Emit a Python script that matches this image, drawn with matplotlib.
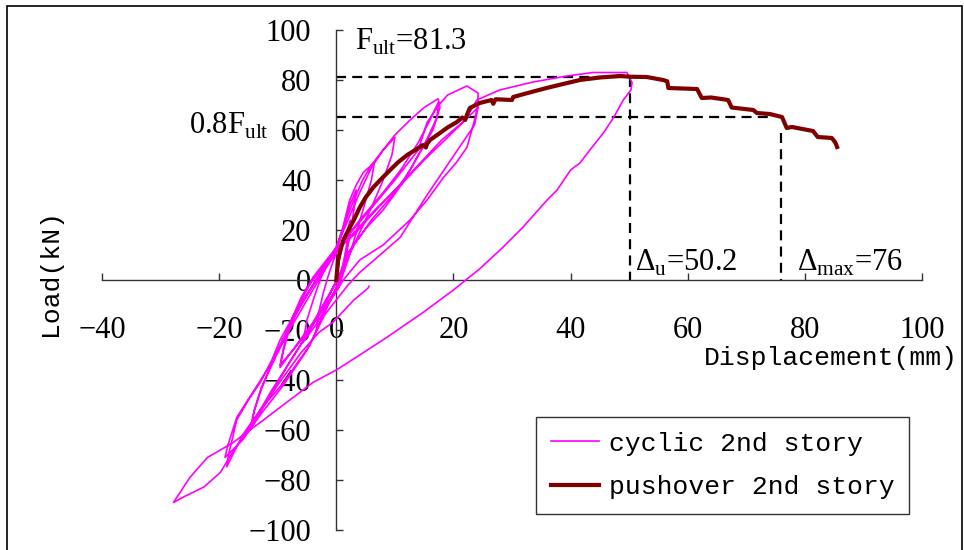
import numpy as np
import matplotlib
matplotlib.use("Agg")
import matplotlib.pyplot as plt
from matplotlib.patches import Rectangle

plt.rcParams["mathtext.fontset"] = "custom"
plt.rcParams["mathtext.rm"] = "Liberation Serif"

# pushover curve of the 2nd story (displacement mm, load kN)
push_disp = [0, 0.3, 0.8, 1.2, 2.3, 3.0, 4.0, 5.0, 6.3, 7.5, 9.2, 10.5, 12.1, 13.5,
             14.8, 15.3, 15.5, 16.0, 17.7, 19.0, 20.6, 21.5, 22.0, 22.3, 22.8, 24.5,
             26.5, 26.8, 27.2, 30.0, 30.2, 30.5, 33.0, 35.9, 38.0, 41.6, 45.0, 48.4,
             50.2, 53.0, 55.8, 56.5, 56.7, 59.0, 61.6, 62.4, 64.0, 66.9, 67.5, 71.2,
             71.8, 74.0, 76.1, 76.9, 77.8, 81.4, 82.2, 84.6, 85.2, 85.5]
push_load = [0, 8, 13, 16, 21, 24, 29, 33, 37, 40, 44, 47, 50, 52,
             54, 53, 54.5, 56, 58.8, 61, 63.2, 65, 64, 66, 68.8, 70.8,
             72, 70.5, 72.3, 72, 73.2, 73.4, 75, 76.8, 78, 80, 81, 81.6,
             81.3, 81.2, 80, 79.5, 76.8, 76.6, 76.4, 72.8, 73, 72, 69, 68,
             66.8, 66.4, 65.2, 60.8, 61.2, 59.6, 57.2, 56.8, 55, 53.2]

# cyclic test of the 2nd story, loops in load order
cyc_disp = [
    0, 0.6, 1.4, 2.4,
    2.0, 1.3, 0.6, -0.8, -2.2, -3.4,
    -3.0, -2.2, -1.2, 0, 1.0, 2.3, 3.4,
    3.0, 2.2, 1.2, 0.4, -1.5, -3.5, -5.7,
    -5.0, -3.8, -2.6, -1.2, 0, 1.0, 2.3, 3.4, 4.6, 6.5,
    6.0, 4.8, 3.3, 2.0, 0.8, -1.5, -4.0, -7.0, -9.6,
    -8.8, -7.5, -6.0, -4.0, -2.0, 0, 1.5, 3.0, 4.5, 6.0, 8.0, 10.0,
    9.5, 8.0, 6.0, 4.0, 2.0, 0.8, -1.5, -4.0, -6.5, -9.6,
    -9.0, -7.8, -6.2, -4.3, -2.0, 0, 2.0, 4.0, 6.0, 8.0, 10.0, 12.6, 15.0, 17.4,
    17.7, 16.5, 14.0, 11.4, 8.0, 5.2, 2.0, 0.5, -2.0, -5.0, -8.0, -11.0, -13.0, -14.7,
    -14.2, -13.0, -11.5, -9.6, -7.5, -5.0, -2.5, 0, 4.0, 8.0, 11.0, 14.0, 16.0, 17.4,
    17.2, 15.0, 12.6, 10.0, 6.0, 3.0, 1.0, -1.5, -4.5, -8.0, -11.0, -14.5,
    -14.0, -12.8, -11.0, -9.0, -6.5, -3.5, 0, 5.0, 10.0, 14.0, 15.5, 17.5, 19.0,
    22.3, 24.2, 24.2,
    23.5, 22.3, 20.5, 18.3, 15.5, 12.6, 8.0, 4.0, 1.2, -1.5, -4.5, -9.0, -13.0,
    -16.0, -18.7,
    -18.4, -17.0, -15.0, -13.0, -11.0, -9.6, -7.0, -4.0, -1.5, 0, 3.0, 6.0, 10.0,
    14.0, 18.0, 22.0, 24.2,
    23.6, 21.0, 15.5, 10.9, 4.0, 2.0, -2.0, -5.0, -9.0, -13.0, -16.0, -19.0,
    -18.5, -17.0, -14.0, -11.0, -8.0, -5.0, -2.0, 0, 3.0, 7.0, 11.0, 15.0, 19.0,
    22.0, 24.0, 27.9, 33.6, 39.4, 43.8, 49.6, 50.5, 50.3,
    49.0, 47.3, 45.6, 43.3, 41.6, 40.0, 37.7, 36.0, 31.9, 28.5, 24.5, 20.0, 14.8,
    8.6, 4.0, 0, -4.0, -8.5, -13.0, -17.6, -22.0, -25.0, -27.8,
    -26.0, -22.6, -19.8, -18.0, -14.0, -10.0, -6.0, -3.0, -0.6, 3.0, 5.4, 5.6]
cyc_load = [
    0, 9, 16, 24,
    17, 8, 0, -7, -14, -20,
    -13, -5, 3, 11, 19, 30, 36,
    28, 16, 4, -3, -10, -18, -25,
    -16, -7, 1, 8, 13, 20, 32, 38, 43, 47,
    40, 30, 18, 8, 0, -9, -18, -27, -34,
    -25, -15, -7, 1, 7, 13, 23, 32, 40, 46, 52, 57,
    50, 40, 29, 19, 9, 2, -7, -17, -25, -35,
    -28, -18, -9, -1, 6, 13, 24, 35, 45, 52, 58, 64, 69, 72.5,
    69, 60, 50, 39, 28, 21, 11, 2, -10, -22, -33, -44, -52, -60,
    -54, -45, -36, -26, -16, -6, 3, 12, 24, 35, 44, 55, 64, 71,
    65, 54, 44, 35, 24, 14, 4, -7, -20, -33, -45, -59,
    -52, -43, -34, -24, -12, 0, 12, 26, 40, 52, 63, 70, 74,
    77.6, 74.8, 70,
    63, 53, 47, 41, 32, 24, 14, 8, 0, -10, -26, -41, -52,
    -62, -74.7,
    -70, -56, -48, -41, -32, -24, -13, -2, 7, 12, 18, 26, 36,
    46, 56, 64, 69,
    62, 53, 34, 17, 3, -2, -14, -28, -42, -54, -64, -71,
    -66, -55, -44, -33, -20, -8, 4, 11, 19, 29, 38, 48, 57,
    64, 72, 76, 79.2, 81.6, 83, 83, 79, 76,
    72, 64.8, 58.8, 52, 46.8, 44, 36, 32, 21.2, 13.2, 4.5, -4, -13,
    -23, -30, -36, -41, -49, -57, -65, -71, -79, -89,
    -86.7, -82.8, -77, -70, -56, -42, -29, -21, -17, -8, -3.3, -2.5]

f_ult = 81.3
delta_u = 50.2
delta_max = 76

fig = plt.figure(figsize=(9.64, 5.5), dpi=100)
ax = fig.add_axes([102 / 964, 20 / 550, 820 / 964, 500 / 550])

ax.plot(cyc_disp, cyc_load, color="#ff00ff", lw=1.2, label="cyclic 2nd story", zorder=3)
ax.plot(push_disp, push_load, color="#800000", lw=3, label="pushover 2nd story",
        zorder=4, solid_joinstyle="round")

# ultimate load / ductility guide lines
dash = dict(color="black", lw=1.6, ls=(0, (4.5, 2.8)), zorder=2)
ax.plot([0, delta_u], [f_ult, f_ult], **dash)
ax.plot([delta_u, delta_u], [f_ult, 0], **dash)
ax.plot([0, 74], [0.8 * f_ult, 0.8 * f_ult], **dash)
ax.plot([delta_max, delta_max], [59, 0], **dash)

serif = "Liberation Serif"
ax.text(3.2, 92, "F$_\\mathrm{ult}$=81.3", fontsize=22, family=serif, va="baseline")
ax.text(-11.5, 58.5, "0.8F$_\\mathrm{ult}$", fontsize=22, family=serif, va="baseline", ha="right")
ax.text(51, 3.5, "Δ$_\\mathrm{u}$=50.2", fontsize=22, family=serif, va="baseline")
ax.text(78.6, 3.5, "Δ$_\\mathrm{max}$=76", fontsize=22, family=serif, va="baseline")

ax.set_xlim(-40, 100)
ax.set_ylim(-100, 100)
ax.set_xticks(np.arange(-40, 101, 20))
ax.set_yticks(np.arange(-100, 101, 20))

ax.spines["left"].set_position(("data", 0))
ax.spines["bottom"].set_position(("data", 0))
ax.spines["top"].set_visible(False)
ax.spines["right"].set_visible(False)
for s in ("left", "bottom"):
    ax.spines[s].set_color("#333333")
    ax.spines[s].set_linewidth(1.0)

ax.tick_params(axis="both", direction="in", length=5, width=1, color="#333333",
               labelsize=22)
ax.tick_params(axis="x", pad=26)
ax.tick_params(axis="y", pad=18)
for lab in ax.get_xticklabels() + ax.get_yticklabels():
    lab.set_family(serif)

mono = "Liberation Mono"
ax.set_xlabel("Displacement(mm)", fontsize=19, family=mono)
ax.xaxis.set_label_coords(0.889, 0.369)
ax.set_ylabel("Load(kN)", fontsize=19, family=mono)
ax.yaxis.set_label_coords(-0.049, 0.514)

leg = ax.legend(loc="lower left", bbox_to_anchor=((536 - 102) / 820, (530 - 514) / 500),
                prop={"family": mono, "size": 19}, frameon=True, fancybox=False,
                handlelength=1.85, handletextpad=0.35, borderpad=0.55, labelspacing=0.75,
                borderaxespad=0)
leg.get_frame().set_edgecolor("black")
leg.get_frame().set_linewidth(1.0)

# outer frame around the figure
fig.patches.append(Rectangle((7 / 964, -0.05), 955 / 964, 1.05 - 6 / 550,
                             transform=fig.transFigure, fill=False, lw=1.2,
                             edgecolor="black", clip_on=False))

fig.savefig("out.png", dpi=100)
